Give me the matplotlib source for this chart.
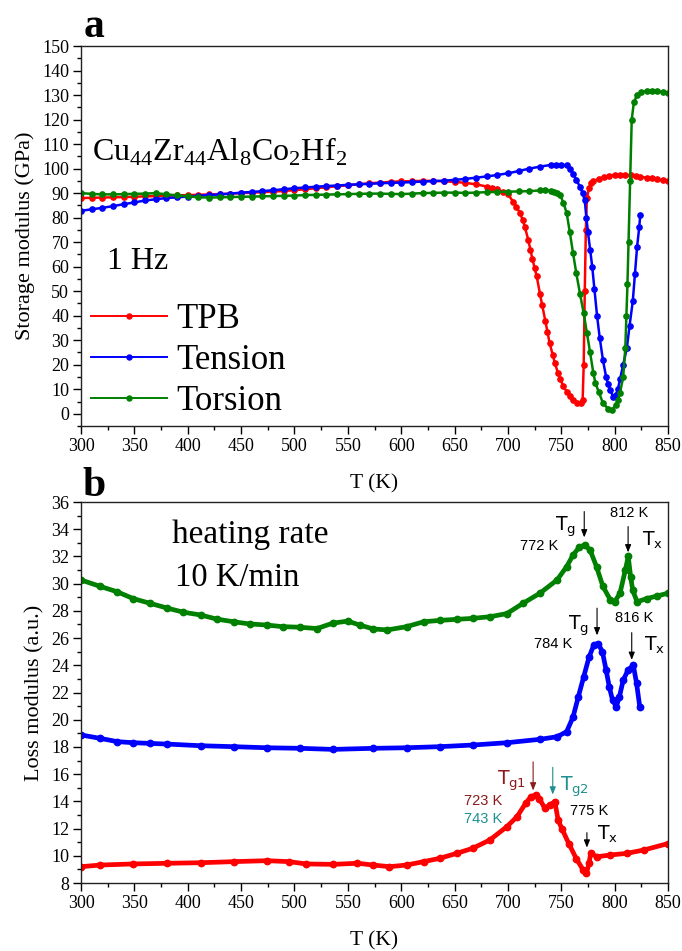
import matplotlib
matplotlib.use("Agg")
import matplotlib.pyplot as plt
from matplotlib.ticker import MultipleLocator
from matplotlib.lines import Line2D

SERIF = ["Liberation Serif", "DejaVu Serif"]
SANS = ["Liberation Sans", "DejaVu Sans"]
plt.rcParams["font.family"] = SERIF
plt.rcParams["mathtext.fontset"] = "custom"
plt.rcParams["mathtext.rm"] = "Liberation Serif"

# ---------------- data: panel a (storage modulus, GPa) ----------------
labels = ["TPB", "Tension", "Torsion"]
colors = ["#ff0000", "#0000ff", "#008000"]

tpb_T = [300, 310, 320, 330, 340, 350, 360, 370, 380, 390, 400, 410, 420, 430, 440, 450, 460, 470,
         480, 490, 500, 510, 520, 530, 540, 550, 560, 570, 580, 590, 600, 610, 620, 630, 640, 650,
         660, 670, 680, 685, 690, 695, 700, 705, 708, 711, 714, 716, 719, 721, 723, 725, 727, 730,
         732, 735, 737, 739, 742, 744, 747, 749, 752, 755, 758, 761, 765, 768, 770, 771, 772, 773,
         774, 776, 778, 780, 785, 790, 795, 800, 805, 810, 815, 820, 824, 830, 835, 840, 845, 850]
tpb_E = [88, 88.1, 88.2, 88.3, 88.4, 88.5, 88.7, 88.8, 89, 89.1, 89.2, 89.3, 89.5, 89.6, 89.8, 90,
         90.2, 90.4, 90.6, 90.9, 91.2, 91.6, 92, 92.4, 92.8, 93.2, 93.6, 94, 94.3, 94.6, 94.8, 94.9,
         95, 95, 94.8, 94.6, 94.2, 93.6, 92.7, 92.2, 91.5, 90.6, 89.5, 86.5, 84.5, 82, 79, 76, 71,
         67, 63, 59.5, 56, 49, 44.5, 38, 33.5, 29, 24, 20.7, 16.5, 14, 11.3, 9, 7.2, 5.7, 4.5, 4.3,
         5.5, 20, 50, 75, 88, 92, 94, 94.8, 95.8, 96.5, 97, 97.3, 97.4, 97.3, 97.2, 97, 96.7, 96.3,
         96, 95.6, 95.2, 94.8]

ten_T = [300, 310, 320, 330, 340, 350, 360, 370, 380, 390, 400, 410, 420, 430, 440, 450, 460, 470,
         480, 490, 500, 510, 520, 530, 540, 550, 560, 570, 580, 590, 600, 610, 620, 630, 640, 650,
         660, 670, 680, 690, 700, 710, 720, 730, 740, 745, 750, 755, 758, 761, 764, 767.5, 770, 772,
         773.5, 775, 777, 779, 781, 783.5, 786, 789, 792, 794, 796, 798.5, 801, 803, 805, 808,
         811.5, 814, 817, 819, 821, 823, 824]
ten_E = [82.8, 83.4, 84, 84.7, 85.5, 86.2, 87, 87.5, 88, 88.3, 88.6, 88.9, 89.2, 89.5, 89.8, 90.2,
         90.5, 90.8, 91.2, 91.6, 92, 92.3, 92.6, 92.9, 93.1, 93.4, 93.6, 93.8, 94, 94.2, 94.3, 94.5,
         94.7, 94.9, 95.1, 95.4, 95.8, 96.3, 96.8, 97.4, 98.1, 99, 100, 100.8, 101.5, 101.6, 101.6,
         101.3, 100, 98, 95.5, 92.6, 90, 87, 80, 74, 67, 60, 51, 40, 31, 22, 15, 12, 9.8, 7, 7.5,
         10, 14, 20, 27, 36, 46, 57, 68, 76, 81]

tor_T = [300, 310, 320, 330, 340, 350, 360, 370, 380, 390, 400, 410, 420, 430, 440, 450, 460, 470,
         480, 490, 500, 510, 520, 530, 540, 550, 560, 570, 580, 590, 600, 610, 620, 630, 640, 650,
         660, 670, 680, 690, 700, 710, 720, 730, 735, 740, 743, 746, 749, 752, 755, 758, 761, 764,
         767.5, 771, 774, 777, 780, 782, 785, 789, 794, 797.5, 801, 803, 805, 808, 810, 811, 812,
         813, 814.5, 816, 818, 821, 825, 830, 835, 840, 845, 850]
tor_E = [90, 89.7, 89.5, 89.5, 89.6, 89.7, 89.8, 90, 89.5, 89.1, 88.7, 88.3, 88.2, 88.3, 88.4, 88.5,
         88.6, 88.7, 88.8, 88.9, 89, 89.2, 89.3, 89.4, 89.5, 89.6, 89.7, 89.8, 89.8, 89.7, 89.6,
         89.8, 90, 90.1, 90.2, 90.2, 90.1, 90.2, 90.4, 90.5, 90.6, 90.7, 90.8, 91.1, 91.2, 91, 90.6,
         90, 89.3, 86, 82, 74, 65.6, 57.5, 49, 41, 33, 25, 16.7, 12.5, 9, 4.4, 2, 1.6, 3.5, 5.5,
         8.5, 15, 27, 40, 53, 70, 95, 120, 127, 130, 131.3, 131.7, 131.7, 131.5, 131.3, 131]

# ---------------- data: panel b (loss modulus, a.u.) ----------------
tor_b_T = [300, 318, 334, 349, 365, 381, 396, 412, 427, 443, 458, 474, 489, 505, 521, 536, 550, 561,
           574, 587, 605, 621, 636, 652, 667, 683, 699, 714, 730, 746, 755, 761, 767, 772, 777, 783,
           789, 796, 800, 805, 810, 812.7, 815, 817, 821, 830, 840, 850]
tor_b_E = [30.27, 29.8, 29.4, 28.9, 28.55, 28.2, 27.9, 27.7, 27.4, 27.2, 27.04, 26.96, 26.84, 26.8, 26.7,
           27.1, 27.25, 26.96, 26.67, 26.6, 26.84, 27.2, 27.3, 27.38, 27.45, 27.57, 27.8, 28.55, 29.3,
           30.27, 31.25, 32.1, 32.7, 32.84, 32.47, 31.25, 29.8, 28.8, 28.67, 29.3, 31.0, 32.0, 30.5,
           29.5, 28.67, 28.9, 29.1, 29.3]

ten_b_T = [300, 318, 334, 349, 365, 381, 412, 443, 474, 505, 536, 574, 605, 636, 667, 699, 730, 746,
           755, 761, 766, 771, 776, 780.5, 784.5, 788.5, 792, 795, 798, 801.5, 804.5, 808, 812.5,
           817.5, 820.5, 823.5]
ten_b_E = [18.88, 18.63, 18.39, 18.31, 18.26, 18.21, 18.09, 18.02, 17.94, 17.9, 17.82, 17.9, 17.94,
           18.02, 18.14, 18.31, 18.56, 18.75, 19.12, 20.2, 21.7, 23.16, 24.6, 25.5, 25.6, 25.0, 23.65,
           22.4, 21.45, 20.96, 21.7, 22.9, 23.65, 24.0, 22.7, 20.96]

tpb_b_T = [300, 318, 349, 381, 412, 443, 474, 495, 511, 536, 559, 574, 589, 605, 621, 636, 652, 667,
           683, 699, 708.5, 716.5, 721.5, 726, 729.5, 734.5, 739, 744, 747, 750.5, 757, 764, 770.5,
           773.5, 776, 777.5, 783.5, 796, 811.5, 827.6, 850]
tpb_b_E = [9.2, 9.32, 9.4, 9.45, 9.49, 9.57, 9.64, 9.57, 9.4, 9.37, 9.45, 9.32, 9.2, 9.32, 9.57, 9.81,
           10.18, 10.55, 11.16, 12.14, 12.87, 13.85, 14.34, 14.47, 14.2, 13.5, 13.73, 13.97, 12.63,
           12.0, 10.9, 9.8, 8.95, 8.7, 9.45, 10.18, 9.93, 10.06, 10.18, 10.43, 10.9]

x_ticks = list(range(300, 851, 50))

# ---------------- figure ----------------
fig = plt.figure(figsize=(6.82, 9.51), dpi=100)
axA = fig.add_axes([0.1188, 0.552, 0.8607, 0.3996])
axB = fig.add_axes([0.1188, 0.0715, 0.8607, 0.4006])


def style(ax, ymin, ymax, ymaj, ymin_step):
    ax.set_xlim(300, 850)
    ax.set_ylim(ymin, ymax)
    ax.set_xticks(x_ticks)
    ax.xaxis.set_minor_locator(MultipleLocator(25))
    ax.yaxis.set_major_locator(MultipleLocator(ymaj))
    ax.yaxis.set_minor_locator(MultipleLocator(ymin_step))
    ax.tick_params(which="both", direction="out", top=False, right=False, width=1.0,
                   labelsize=13, pad=3)
    ax.tick_params(which="major", length=5.5)
    ax.tick_params(which="minor", length=3)
    for s in ax.spines.values():
        s.set_linewidth(1.0)
        s.set_color("#222222")
    for lab in ax.get_xticklabels() + ax.get_yticklabels():
        lab.set_fontfamily(SERIF)


# panel a
for T, E, c, lab in zip([tpb_T, ten_T, tor_T], [tpb_E, ten_E, tor_E], colors, labels):
    axA.plot(T, E, color=c, lw=1.8, marker="o", ms=3.8, mec=c, mfc=c, label=lab)
style(axA, -5, 150, 10, 5)
axA.set_yticks(list(range(0, 151, 10)))
axA.set_xlabel("T (K)", fontsize=15.5, labelpad=14)
axA.set_ylabel("Storage modulus (GPa)", fontsize=16, labelpad=5)
axA.text(0.018, 0.721, r"Cu$_{44}$Zr$_{44}$Al$_{8}$Co$_{2}$Hf$_{2}$", transform=axA.transAxes,
         fontsize=23, ha="left", va="center")
axA.text(0.045, 0.432, "1 Hz", transform=axA.transAxes, fontsize=23, ha="left", va="center")
handles = [Line2D([0], [0], color=c, lw=1.4, marker="o", ms=3.6, mec=c, mfc=c) for c in colors]
axA.legend(handles, labels, loc="upper left", bbox_to_anchor=(0.0, 0.35), frameon=False,
           fontsize=25, handlelength=2.19, handletextpad=0.26, labelspacing=0.22, numpoints=1,
           borderaxespad=0.3, borderpad=0.0)
fig.text(0.138, 0.972, "a", fontsize=30, fontweight="bold", ha="center", va="center",
         family=SERIF)

# panel b
for T, E, c in zip([tpb_b_T, ten_b_T, tor_b_T], [tpb_b_E, ten_b_E, tor_b_E], colors):
    axB.plot(T, E, color=c, lw=3.4, marker="o", ms=4.6, mec=c, mfc=c)
style(axB, 8, 36, 2, 1)
axB.set_xlabel("T (K)", fontsize=15.5, labelpad=14)
axB.set_ylabel("Loss modulus (a.u.)", fontsize=16, labelpad=5)
axB.text(0.155, 0.915, "heating rate", transform=axB.transAxes, fontsize=24, ha="left", va="center")
axB.text(0.16, 0.80, "10 K/min", transform=axB.transAxes, fontsize=23.5, ha="left", va="center")
fig.text(0.138, 0.489, "b", fontsize=30, fontweight="bold", ha="center", va="center",
         family=SERIF)

DARKRED = "#8b1a1a"
TEAL = "#1f8f8f"


def arrow(x, y0, y1, color="black"):
    axB.annotate("", xy=(x, y1), xytext=(x, y0),
                 arrowprops=dict(arrowstyle="-|>,head_length=0.45,head_width=0.18",
                                 color=color, lw=0.8, shrinkA=0, shrinkB=0))


def label(x, y, s, color="black", size=10.5, ha="center"):
    axB.text(x, y, s, color=color, fontsize=size, ha=ha, va="center", family=SANS)


def tsym(x, y, sub, color="black"):
    axB.text(x, y, r"$\mathsf{T}_{\mathsf{%s}}$" % sub, color=color, fontsize=13.5,
             ha="center", va="center", family=SANS,
             math_fontfamily="dejavusans")


# torsion annotations
arrow(771.5, 35.3, 33.4)
tsym(754, 34.2, "g")
label(729, 32.8, "772 K")
arrow(812.6, 34.2, 32.3)
label(814, 35.2, "812 K")
tsym(835, 33.2, "x")
# tension annotations
arrow(783.5, 28.2, 26.2)
tsym(766, 26.9, "g")
label(742, 25.6, "784 K")
arrow(816, 26.4, 24.4)
label(818, 27.5, "816 K")
tsym(837, 25.5, "x")
# TPB annotations
arrow(723.6, 16.9, 14.8, DARKRED)
tsym(703, 15.5, "g1", DARKRED)
label(677, 14.0, "723 K", DARKRED)
arrow(742, 16.5, 14.5, TEAL)
tsym(762, 15.1, "g2", TEAL)
label(677, 12.7, "743 K", TEAL)
label(776, 13.3, "775 K")
arrow(774, 11.7, 10.6)
tsym(793, 11.6, "x")

fig.savefig("out.png", dpi=100)
